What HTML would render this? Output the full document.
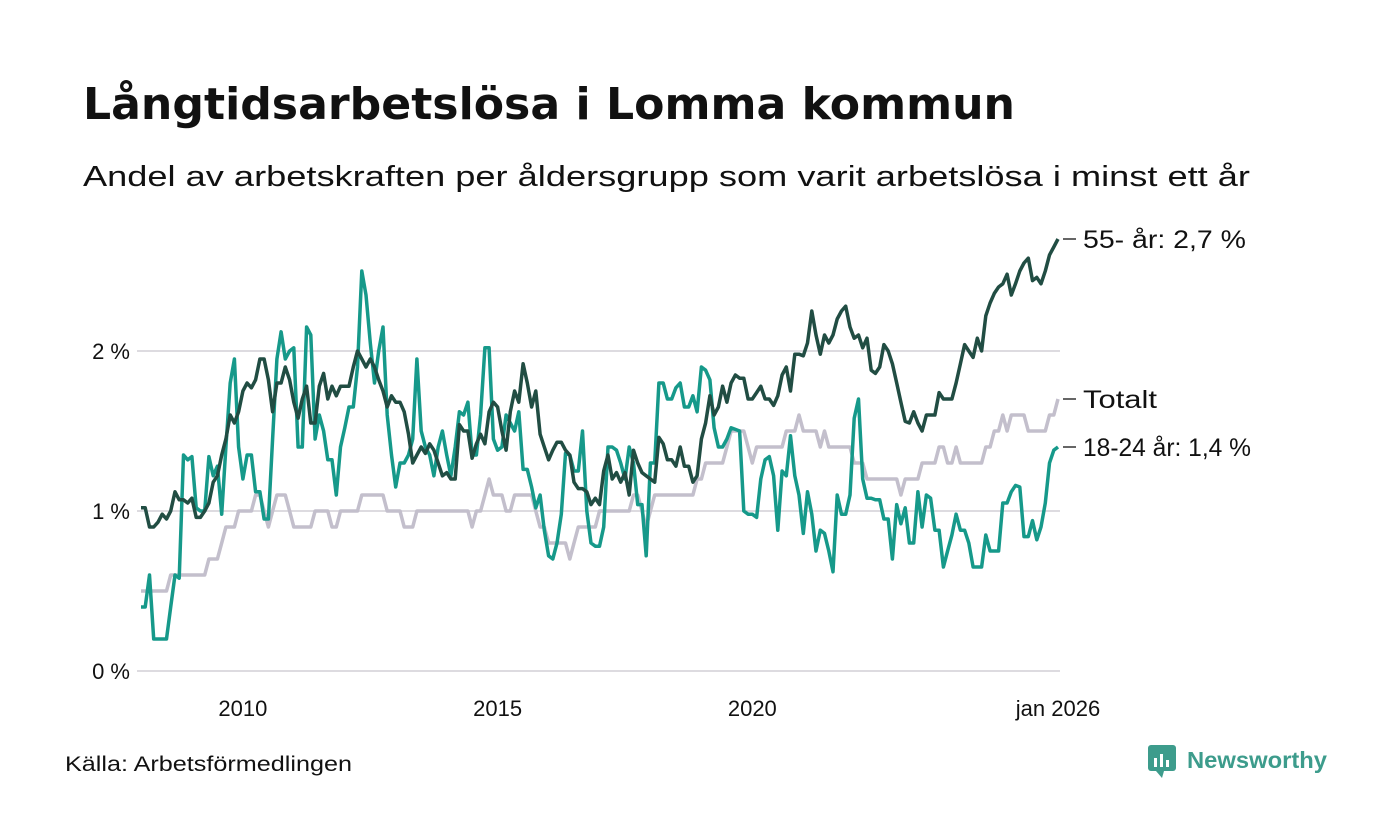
<!DOCTYPE html>
<html><head><meta charset="utf-8"><style>
body{margin:0;background:#fff;font-family:"Liberation Sans","DejaVu Sans",sans-serif;}
#wrap{position:relative;width:1400px;height:840px;overflow:hidden;background:#fff}
</style></head><body>
<div id="wrap">
<svg id="chart" width="1400" height="840">
<text x="83" y="119" font-size="44" font-weight="bold" fill="#111" textLength="932" lengthAdjust="spacingAndGlyphs" font-family="DejaVu Sans, sans-serif">Långtidsarbetslösa i Lomma kommun</text>
<text x="83" y="186" font-size="29" fill="#111" textLength="1167" lengthAdjust="spacingAndGlyphs">Andel av arbetskraften per åldersgrupp som varit arbetslösa i minst ett år</text>
<g id="grid"></g><g id="series"></g><g id="labels"></g>
<text x="65" y="771" font-size="21" fill="#111" textLength="287" lengthAdjust="spacingAndGlyphs">Källa: Arbetsförmedlingen</text>
<g>
<rect x="1148" y="745" width="28" height="26" rx="3" fill="#3d9c8c"/>
<path d="M1156 771 l6 7 l2 -7 z" fill="#3d9c8c"/>
<rect x="1154" y="758" width="3" height="9" fill="#fff"/><rect x="1160" y="754" width="3" height="13" fill="#fff"/><rect x="1166" y="760" width="3" height="7" fill="#fff"/>
<text x="1187" y="768" font-size="23" font-weight="bold" fill="#3d9c8c" textLength="140" lengthAdjust="spacingAndGlyphs">Newsworthy</text>
</g>
</svg>
</div>
<script>
const yTicks=[0,1,2];
const yTickLabels=["0 %","1 %","2 %"];
const xTickMonths=[24,84,144,216];
const xTickLabels=["2010","2015","2020","jan 2026"];
const age55=[1.02,1.02,0.9,0.9,0.93,0.98,0.95,1.0,1.12,1.07,1.07,1.05,
1.08,0.96,0.96,1.0,1.05,1.18,1.22,1.35,1.45,1.6,1.55,1.62,
1.75,1.8,1.77,1.82,1.95,1.95,1.82,1.62,1.8,1.8,1.9,1.82,
1.68,1.58,1.7,1.78,1.55,1.55,1.78,1.86,1.7,1.78,1.72,1.78,
1.78,1.78,1.9,2.0,1.95,1.9,1.95,1.9,1.82,1.75,1.65,1.72,
1.68,1.68,1.62,1.48,1.3,1.35,1.4,1.36,1.42,1.38,1.3,1.22,
1.24,1.2,1.2,1.54,1.5,1.5,1.33,1.42,1.48,1.42,1.62,1.68,
1.65,1.5,1.38,1.62,1.75,1.68,1.92,1.8,1.65,1.75,1.48,1.4,
1.32,1.38,1.43,1.43,1.38,1.35,1.18,1.14,1.14,1.12,1.04,1.08,
1.04,1.25,1.35,1.2,1.24,1.18,1.24,1.1,1.38,1.3,1.24,1.22,
1.2,1.18,1.46,1.42,1.32,1.32,1.28,1.4,1.28,1.28,1.18,1.22,
1.45,1.55,1.72,1.6,1.65,1.78,1.68,1.8,1.85,1.83,1.83,1.7,
1.7,1.74,1.78,1.7,1.7,1.66,1.72,1.85,1.9,1.75,1.98,1.98,
1.97,2.05,2.25,2.1,1.98,2.1,2.05,2.1,2.2,2.25,2.28,2.15,
2.08,2.1,2.02,2.08,1.88,1.86,1.9,2.04,2.0,1.92,1.8,1.68,
1.56,1.55,1.62,1.55,1.5,1.6,1.6,1.6,1.74,1.7,1.7,1.7,
1.8,1.92,2.04,2.0,1.96,2.08,2.0,2.22,2.3,2.36,2.4,2.42,
2.48,2.35,2.42,2.5,2.55,2.58,2.44,2.46,2.42,2.5,2.6,2.65,2.7];
const total=[0.5,0.5,0.5,0.5,0.5,0.5,0.5,0.6,0.6,0.6,0.6,0.6,
0.6,0.6,0.6,0.6,0.7,0.7,0.7,0.8,0.9,0.9,0.9,1.0,
1.0,1.0,1.0,1.1,1.1,1.0,0.9,1.0,1.1,1.1,1.1,1.0,
0.9,0.9,0.9,0.9,0.9,1.0,1.0,1.0,1.0,0.9,0.9,1.0,
1.0,1.0,1.0,1.0,1.1,1.1,1.1,1.1,1.1,1.1,1.0,1.0,
1.0,1.0,0.9,0.9,0.9,1.0,1.0,1.0,1.0,1.0,1.0,1.0,
1.0,1.0,1.0,1.0,1.0,1.0,0.9,1.0,1.0,1.1,1.2,1.1,
1.1,1.1,1.0,1.0,1.1,1.1,1.1,1.1,1.1,1.0,0.9,0.9,
0.8,0.8,0.8,0.8,0.8,0.7,0.8,0.9,0.9,0.9,0.9,0.9,
1.0,1.0,1.0,1.0,1.0,1.0,1.0,1.0,1.1,1.1,1.0,0.9,
1.0,1.1,1.1,1.1,1.1,1.1,1.1,1.1,1.1,1.1,1.1,1.2,
1.2,1.3,1.3,1.3,1.3,1.3,1.4,1.5,1.5,1.5,1.5,1.4,
1.3,1.4,1.4,1.4,1.4,1.4,1.4,1.4,1.5,1.5,1.5,1.6,
1.5,1.5,1.5,1.5,1.4,1.5,1.4,1.4,1.4,1.4,1.4,1.4,
1.3,1.3,1.3,1.2,1.2,1.2,1.2,1.2,1.2,1.2,1.2,1.1,
1.2,1.2,1.2,1.2,1.3,1.3,1.3,1.3,1.4,1.4,1.3,1.3,
1.4,1.3,1.3,1.3,1.3,1.3,1.3,1.4,1.4,1.5,1.5,1.6,
1.5,1.6,1.6,1.6,1.6,1.5,1.5,1.5,1.5,1.5,1.6,1.6,1.7];
const age1824=[0.4,0.4,0.6,0.2,0.2,0.2,0.2,0.4,0.6,0.58,1.35,1.32,
1.34,1.02,1.0,1.0,1.34,1.22,1.28,0.98,1.4,1.8,1.95,1.4,
1.2,1.35,1.35,1.12,1.12,0.95,0.95,1.45,1.95,2.12,1.95,2.0,
2.02,1.4,1.4,2.15,2.1,1.45,1.6,1.5,1.32,1.32,1.1,1.4,
1.52,1.65,1.65,1.9,2.5,2.35,2.05,1.8,2.0,2.15,1.6,1.35,
1.15,1.3,1.3,1.35,1.45,1.95,1.5,1.4,1.35,1.22,1.4,1.5,
1.35,1.22,1.4,1.62,1.6,1.68,1.35,1.35,1.6,2.02,2.02,1.45,
1.38,1.4,1.6,1.55,1.5,1.62,1.26,1.26,1.15,1.02,1.1,0.88,
0.72,0.7,0.8,0.98,1.36,1.35,1.25,1.25,1.5,1.0,0.8,0.78,
0.78,0.9,1.4,1.4,1.38,1.3,1.2,1.4,1.3,1.04,1.04,0.72,
1.3,1.3,1.8,1.8,1.7,1.7,1.77,1.8,1.65,1.65,1.72,1.62,
1.9,1.88,1.82,1.52,1.4,1.4,1.45,1.52,1.51,1.5,1.0,0.98,
0.98,0.96,1.2,1.32,1.34,1.22,0.88,1.25,1.22,1.47,1.22,1.1,
0.86,1.12,0.98,0.75,0.88,0.86,0.75,0.62,1.1,0.98,0.98,1.1,
1.58,1.7,1.2,1.08,1.08,1.07,1.07,0.95,0.95,0.7,1.04,0.92,
1.02,0.8,0.8,1.12,0.9,1.1,1.08,0.88,0.88,0.65,0.75,0.85,
0.98,0.88,0.88,0.8,0.65,0.65,0.65,0.85,0.75,0.75,0.75,1.05,
1.05,1.12,1.16,1.15,0.84,0.84,0.94,0.82,0.9,1.05,1.3,1.38,1.4];
const seriesNames=["55- år: 2,7 %","Totalt","18-24 år: 1,4 %"];
const labelWidths=[163,74,168];

const NS="http://www.w3.org/2000/svg";
const x=i=>141+i*(1058-141)/216;
const y=v=>671-v*160;
const grid=document.getElementById('grid');
yTicks.forEach((t,k)=>{
  const l=document.createElementNS(NS,'line');
  l.setAttribute('x1',137);l.setAttribute('x2',1060);l.setAttribute('y1',y(t));l.setAttribute('y2',y(t));
  l.setAttribute('stroke','#dddbe0');l.setAttribute('stroke-width',2);
  
  
  grid.appendChild(l);
  const tx=document.createElementNS(NS,'text');
  tx.setAttribute('x',130);tx.setAttribute('y',y(t)+8);tx.setAttribute('text-anchor','end');
  tx.setAttribute('font-size',22);tx.setAttribute('fill','#111');tx.textContent=yTickLabels[k];
  
  
  grid.appendChild(tx);
});
xTickMonths.forEach((m,k)=>{
  const tx=document.createElementNS(NS,'text');
  tx.setAttribute('x',x(m));tx.setAttribute('y',716);tx.setAttribute('text-anchor','middle');
  tx.setAttribute('font-size',22);tx.setAttribute('fill','#111');tx.textContent=xTickLabels[k];
  
  
  grid.appendChild(tx);
});
const sg=document.getElementById('series'),lg=document.getElementById('labels');
const defs=[[total,'#c3bfcc','series-total',1],[age1824,'#16998a','series-18-24',2],[age55,'#214d43','series-55',0]];
defs.forEach(([d,c,n,li])=>{
  const p=document.createElementNS(NS,'path');
  p.setAttribute('d',d.map((v,i)=>(i?'L':'M')+x(i).toFixed(1)+' '+y(v).toFixed(1)).join(''));
  p.setAttribute('fill','none');p.setAttribute('stroke',c);p.setAttribute('stroke-width',3.5);p.setAttribute('stroke-linejoin','round');
  
  
  sg.appendChild(p);
  const last=y(d[d.length-1]);
  const tk=document.createElementNS(NS,'line');
  tk.setAttribute('x1',1063);tk.setAttribute('x2',1076);tk.setAttribute('y1',last);tk.setAttribute('y2',last);
  tk.setAttribute('stroke','#333');tk.setAttribute('stroke-width',1.5);
  
  
  lg.appendChild(tk);
  const t=document.createElementNS(NS,'text');
  t.setAttribute('x',1083);t.setAttribute('y',last+9);t.setAttribute('font-size',25);t.setAttribute('fill','#111');
  t.setAttribute('textLength',labelWidths[li]);t.setAttribute('lengthAdjust','spacingAndGlyphs');
  t.textContent=seriesNames[li];
  
  
  lg.appendChild(t);
});
</script>
</body></html>
